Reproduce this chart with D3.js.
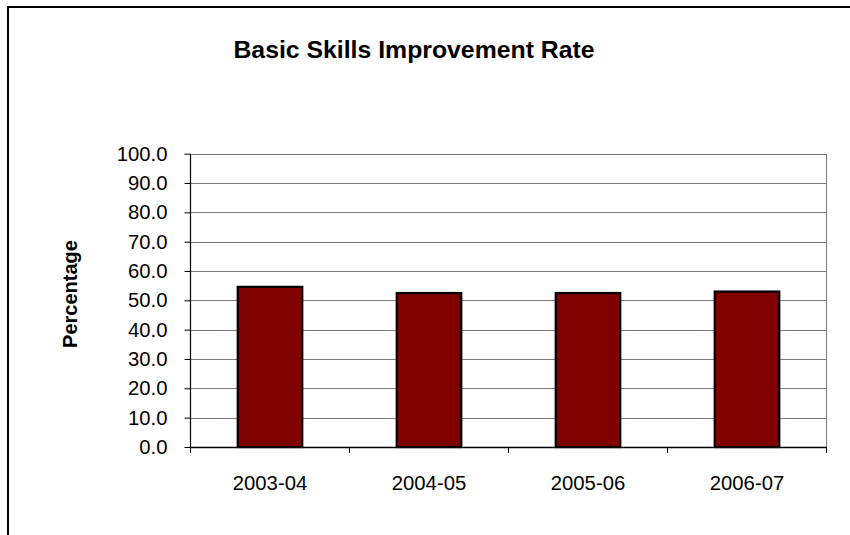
<!DOCTYPE html>
<html>
<head>
<meta charset="utf-8">
<script src="https://cdn.jsdelivr.net/npm/d3@7"></script>
<style>
  html, body { margin: 0; padding: 0; background: #fff; }
  svg { display: block; font-family: "Liberation Sans", Arial, sans-serif; }
</style>
</head>
<body>
<svg id="chart" width="850" height="535"></svg>
<script>
const categories = ["2003-04", "2004-05", "2005-06", "2006-07"];
const values = [54.6, 52.5, 52.5, 53.0];
const yTicks = [0, 10, 20, 30, 40, 50, 60, 70, 80, 90, 100];
const title = "Basic Skills Improvement Rate";
const yTitle = "Percentage";

const svg = d3.select("#chart");
const W = 850, H = 535;
const plot = { left: 190.5, right: 826.5, top: 153.7, bottom: 447 };

// outer frame
svg.append("path")
  .attr("d", `M8,${H + 5} L8,7 L${W + 5},7`)
  .attr("fill", "none").attr("stroke", "#000").attr("stroke-width", 2);

const x = d3.scaleBand().domain(categories)
  .range([plot.left, plot.right])
  .paddingInner(0.594).paddingOuter(0.297);
const xb = d3.scaleBand().domain(categories).range([plot.left, plot.right]).padding(0);
const y = d3.scaleLinear().domain([0, 100]).range([plot.bottom, plot.top]);

// gridlines
svg.append("g").selectAll("line").data(yTicks.filter(t => t > 0)).join("line")
  .attr("x1", plot.left).attr("x2", plot.right)
  .attr("y1", d => Math.round(y(d)) + 0.5).attr("y2", d => Math.round(y(d)) + 0.5)
  .attr("stroke", "#7a7a7a").attr("stroke-width", 1);

// right plot border
svg.append("line")
  .attr("x1", plot.right).attr("x2", plot.right)
  .attr("y1", y(100)).attr("y2", plot.bottom)
  .attr("stroke", "#7a7a7a").attr("stroke-width", 1);

// bars
svg.append("g").selectAll("rect").data(values).join("rect")
  .attr("x", (d, i) => x(categories[i]))
  .attr("width", x.bandwidth())
  .attr("y", d => y(d))
  .attr("height", d => plot.bottom - y(d))
  .attr("fill", "#800000")
  .attr("stroke", "#000").attr("stroke-width", 2.2);

// y axis
const yAxis = d3.axisLeft(y).tickValues(yTicks).tickFormat(d3.format(".1f")).tickSize(6).tickPadding(17);
const gy = svg.append("g").attr("transform", `translate(${plot.left},0)`).call(yAxis);
gy.select(".domain").attr("stroke", "#000").attr("stroke-width", 1.2).attr("d", `M0,${y(100)}V${plot.bottom}`);
gy.selectAll(".tick line").attr("stroke", "#000");
gy.selectAll(".tick text").attr("font-size", 20.3).attr("fill", "#000")
  .attr("font-family", "'Liberation Sans', Arial, sans-serif");

// x axis
const xAxis = d3.axisBottom(xb).tickSize(0).tickPadding(29);
const gx = svg.append("g").attr("transform", `translate(0,${plot.bottom})`).call(xAxis);
gx.select(".domain").attr("stroke", "#000").attr("stroke-width", 1.5);
gx.selectAll(".tick text").attr("font-size", 20.3).attr("fill", "#000")
  .attr("font-family", "'Liberation Sans', Arial, sans-serif");
// category boundary tick marks
const bounds = categories.map(c => xb(c)).concat([plot.right]);
gx.append("g").selectAll("line").data(bounds).join("line")
  .attr("x1", d => d).attr("x2", d => d)
  .attr("y1", 0).attr("y2", 6)
  .attr("stroke", "#000").attr("stroke-width", 1);

// title
svg.append("text")
  .attr("x", 414).attr("y", 58)
  .attr("text-anchor", "middle")
  .attr("font-size", 24.8).attr("font-weight", "bold").attr("fill", "#000")
  .text(title);

// y title
svg.append("text")
  .attr("transform", "translate(77,294) rotate(-90)")
  .attr("text-anchor", "middle")
  .attr("font-size", 20).attr("font-weight", "bold").attr("fill", "#000")
  .text(yTitle);
</script>
</body>
</html>
